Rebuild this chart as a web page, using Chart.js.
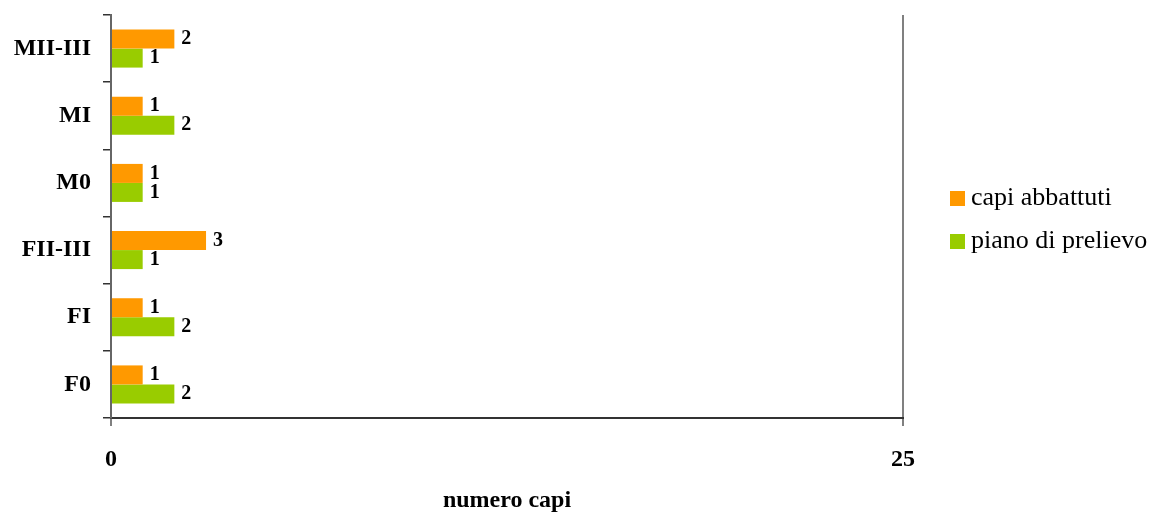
<!DOCTYPE html>
<html>
<head>
<meta charset="utf-8">
<script src="https://cdn.jsdelivr.net/npm/chart.js"></script>
<style>
  html, body { margin: 0; padding: 0; background: #fff; }
  #wrap { position: relative; width: 1156px; height: 515px; }
  #legend { position: absolute; left: 950px; top: 182px; font-family: 'Liberation Serif', serif; font-size: 26px; color: #000; }
  #legend div { height: 43px; display: flex; align-items: flex-start; white-space: nowrap; }
  #legend span.box { display: inline-block; width: 15px; height: 15px; margin: 9px 6px 0 0; }
</style>
</head>
<body>
<div id="wrap">
  <canvas id="chart" width="1156" height="515"></canvas>
  <div id="legend"></div>
</div>
<script>
const categories = ['MII-III', 'MI', 'M0', 'FII-III', 'FI', 'F0'];
const capiAbbattuti = [2, 1, 1, 3, 1, 1];
const pianoPrelievo = [1, 2, 1, 1, 2, 2];
const seriesNames = ['capi abbattuti', 'piano di prelievo'];
const seriesColors = ['#FF9900', '#99CC00'];
const xTicks = [0, 25];

const serif = "'Liberation Serif', 'Times New Roman', serif";

const barLabels = {
  id: 'barLabels',
  afterDatasetsDraw(chart) {
    const ctx = chart.ctx;
    ctx.save();
    ctx.font = 'bold 20px ' + serif;
    ctx.fillStyle = '#000';
    ctx.textAlign = 'left';
    ctx.textBaseline = 'middle';
    chart.data.datasets.forEach((ds, i) => {
      chart.getDatasetMeta(i).data.forEach((bar, j) => {
        ctx.fillText(String(ds.data[j]), bar.x + 7, bar.y);
      });
    });
    ctx.restore();
  }
};

new Chart(document.getElementById('chart'), {
  type: 'bar',
  data: {
    labels: categories,
    datasets: [
      { label: seriesNames[0], data: capiAbbattuti, backgroundColor: seriesColors[0] },
      { label: seriesNames[1], data: pianoPrelievo, backgroundColor: seriesColors[1] }
    ]
  },
  options: {
    indexAxis: 'y',
    responsive: false,
    animation: false,
    categoryPercentage: 0.566,
    barPercentage: 1,
    layout: { padding: { top: 15, right: 253, left: 0, bottom: 0 } },
    plugins: { legend: { display: false }, tooltip: { enabled: false } },
    scales: {
      x: {
        min: 0,
        max: 25,
        afterBuildTicks: axis => { axis.ticks = xTicks.map(v => ({ value: v })); },
        afterFit: axis => { axis.height = 97; axis.paddingLeft = 0; axis.paddingRight = 0; },
        grid: { color: '#808080', lineWidth: 2, tickLength: 8 },
        border: { color: '#333', width: 2 },
        ticks: { color: '#000', padding: 19, maxRotation: 0, font: { family: serif, size: 24, weight: 'bold' } },
        title: { display: true, text: 'numero capi', color: '#000', padding: { top: 0, bottom: 0 }, font: { family: serif, size: 24, weight: 'bold' } }
      },
      y: {
        afterFit: axis => { axis.width = 111; axis.paddingTop = 0; axis.paddingBottom = 0; },
        grid: { drawOnChartArea: false, color: '#333', tickLength: 8, lineWidth: 1.5 },
        border: { color: '#666', width: 2 },
        ticks: { color: '#000', padding: 12, font: { family: serif, size: 24, weight: 'bold' } }
      }
    }
  },
  plugins: [barLabels]
});

const legend = document.getElementById('legend');
seriesNames.forEach((name, i) => {
  const row = document.createElement('div');
  row.innerHTML = `<span class="box" style="background:${seriesColors[i]}"></span>${name}`;
  legend.appendChild(row);
});
</script>
</body>
</html>
